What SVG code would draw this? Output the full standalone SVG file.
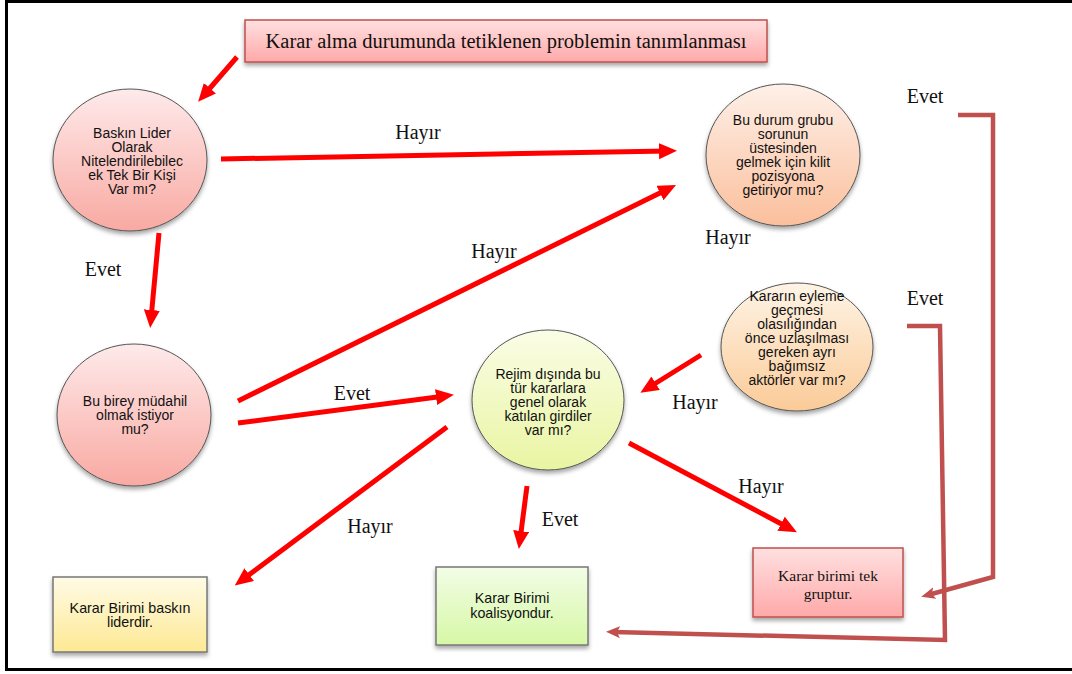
<svg xmlns="http://www.w3.org/2000/svg" width="1072" height="674" viewBox="0 0 1072 674">
<style>
.ct{font-family:"Liberation Sans",Arial,sans-serif;font-size:14px;fill:#111;text-anchor:middle}
.rt{font-family:"Liberation Sans",Arial,sans-serif;font-size:14.3px;fill:#111;text-anchor:middle}
.st{font-family:"Liberation Serif","Times New Roman",serif;fill:#111;text-anchor:middle}
.lbl{font-family:"Liberation Serif","Times New Roman",serif;font-size:20px;fill:#111;text-anchor:middle}
.red{stroke:#ff0000;stroke-width:5;fill:none;marker-end:url(#ah)}
.brown{stroke:#c0504d;stroke-width:4.5;fill:none;stroke-linejoin:miter;marker-end:url(#bh)}
.circ{stroke:#555;stroke-width:1;filter:url(#sh)}
.box{stroke-width:1.5;filter:url(#sh)}
</style>
<defs>
<filter id="sh" x="-20%" y="-20%" width="140%" height="150%"><feDropShadow dx="0" dy="3" stdDeviation="2" flood-color="#000" flood-opacity="0.35"/></filter>
<linearGradient id="gPink" x1="0" y1="0" x2="0" y2="1"><stop offset="0" stop-color="#feeaea"/><stop offset="1" stop-color="#f9a9a2"/></linearGradient>
<linearGradient id="gPeach" x1="0" y1="0" x2="0" y2="1"><stop offset="0" stop-color="#fef0e8"/><stop offset="1" stop-color="#fbbf9c"/></linearGradient>
<linearGradient id="gOrange" x1="0" y1="0" x2="0" y2="1"><stop offset="0" stop-color="#fef4e6"/><stop offset="1" stop-color="#fbcb98"/></linearGradient>
<linearGradient id="gLime" x1="0" y1="0" x2="0" y2="1"><stop offset="0" stop-color="#fafde6"/><stop offset="1" stop-color="#e9f5a2"/></linearGradient>
<linearGradient id="gRedBox" x1="0" y1="0" x2="0" y2="1"><stop offset="0" stop-color="#ffe0e0"/><stop offset="1" stop-color="#ffa9a9"/></linearGradient>
<linearGradient id="gYellow" x1="0" y1="0" x2="0" y2="1"><stop offset="0" stop-color="#fffbe6"/><stop offset="1" stop-color="#fde994"/></linearGradient>
<linearGradient id="gGreen" x1="0" y1="0" x2="0" y2="1"><stop offset="0" stop-color="#f2fde6"/><stop offset="1" stop-color="#d6f8a6"/></linearGradient>
<marker id="ah" markerUnits="userSpaceOnUse" markerWidth="20" markerHeight="18" refX="9" refY="8" orient="auto"><path d="M0,0 L18,8 L0,16 z" fill="#ff0000"/></marker>
<marker id="bh" markerUnits="userSpaceOnUse" markerWidth="16" markerHeight="14" refX="7" refY="6" orient="auto"><path d="M0,0 L14,6 L0,12 L3,6 z" fill="#c0504d"/></marker>
</defs>
<rect width="1072" height="674" fill="#fff"/>
<rect x="6.5" y="1.5" width="1080" height="668" fill="none" stroke="#000" stroke-width="3"/>

<g id="connectors">
<line class="red" x1="237" y1="57" x2="204" y2="95"/>
<line class="red" x1="221" y1="159" x2="668" y2="151"/>
<line class="red" x1="159" y1="233" x2="151" y2="319"/>
<line class="red" x1="238" y1="401" x2="668" y2="189"/>
<line class="red" x1="238" y1="423" x2="445" y2="396"/>
<line class="red" x1="447" y1="427" x2="242" y2="580"/>
<line class="red" x1="527" y1="486" x2="520" y2="540"/>
<line class="red" x1="629" y1="443" x2="789" y2="528"/>
<line class="red" x1="701" y1="355" x2="648" y2="388"/>
<path class="brown" d="M958 115 H993 V577 L928 595"/>
<path class="brown" d="M907 326 H940 L945 640 L613 632"/>
<text class="lbl" x="418" y="139">Hayır</text>
<text class="lbl" x="103" y="276">Evet</text>
<text class="lbl" x="494" y="258">Hayır</text>
<text class="lbl" x="352" y="400">Evet</text>
<text class="lbl" x="370" y="533">Hayır</text>
<text class="lbl" x="560" y="526">Evet</text>
<text class="lbl" x="761" y="493">Hayır</text>
<text class="lbl" x="695" y="409">Hayır</text>
<text class="lbl" x="728" y="244">Hayır</text>
<text class="lbl" x="925" y="103">Evet</text>
<text class="lbl" x="925" y="305">Evet</text>
</g>

<g id="n-title">
<rect class="box" x="245" y="20" width="522" height="42" fill="url(#gRedBox)" stroke="#c0504d"/>
<text class="st" x="506" y="48" font-size="20.5">Karar alma durumunda tetiklenen problemin tanımlanması</text>
</g>

<g id="n-baskin">
<ellipse class="circ" cx="130" cy="160" rx="77" ry="71" fill="url(#gPink)"/>
<text class="ct"><tspan x="132" y="138">Baskın Lider</tspan><tspan x="132" y="152">Olarak</tspan><tspan x="132" y="166">Nitelendirilebilec</tspan><tspan x="132" y="180">ek Tek Bir Kişi</tspan><tspan x="132" y="194">Var mı?</tspan></text>
</g>

<g id="n-grup">
<ellipse class="circ" cx="783" cy="155" rx="77" ry="71" fill="url(#gPeach)"/>
<text class="ct"><tspan x="783" y="125">Bu durum grubu</tspan><tspan x="783" y="139">sorunun</tspan><tspan x="783" y="153">üstesinden</tspan><tspan x="783" y="167">gelmek için kilit</tspan><tspan x="783" y="181">pozisyona</tspan><tspan x="783" y="195">getiriyor mu?</tspan></text>
</g>

<g id="n-birey">
<ellipse class="circ" cx="134" cy="415" rx="77" ry="71" fill="url(#gPink)"/>
<text class="ct"><tspan x="135" y="406">Bu birey müdahil</tspan><tspan x="135" y="420">olmak istiyor</tspan><tspan x="135" y="434">mu?</tspan></text>
</g>

<g id="n-rejim">
<ellipse class="circ" cx="548" cy="400" rx="76" ry="70" fill="url(#gLime)"/>
<text class="ct"><tspan x="548" y="379">Rejim dışında bu</tspan><tspan x="548" y="393">tür kararlara</tspan><tspan x="548" y="407">genel olarak</tspan><tspan x="548" y="421">katılan girdiler</tspan><tspan x="548" y="435">var mı?</tspan></text>
</g>

<g id="n-aktor">
<ellipse class="circ" cx="797" cy="347" rx="76" ry="64" fill="url(#gOrange)"/>
<text class="ct"><tspan x="797" y="301">Kararın eyleme</tspan><tspan x="797" y="315">geçmesi</tspan><tspan x="797" y="329">olasılığından</tspan><tspan x="797" y="343">önce uzlaşılması</tspan><tspan x="797" y="357">gereken ayrı</tspan><tspan x="797" y="371">bağımsız</tspan><tspan x="797" y="385">aktörler var mı?</tspan></text>
</g>

<g id="n-lider">
<rect class="box" x="53" y="577" width="154" height="75" fill="url(#gYellow)" stroke="#777"/>
<text class="rt"><tspan x="130" y="613">Karar Birimi baskın</tspan><tspan x="130" y="627">liderdir.</tspan></text>
</g>

<g id="n-koalisyon">
<rect class="box" x="436" y="567" width="152" height="78" fill="url(#gGreen)" stroke="#777"/>
<text class="rt"><tspan x="512" y="603">Karar Birimi</tspan><tspan x="512" y="618">koalisyondur.</tspan></text>
</g>

<g id="n-tekgrup">
<rect class="box" x="753" y="548" width="150" height="69" fill="url(#gRedBox)" stroke="#c0504d"/>
<text class="st" font-size="15.5"><tspan x="828" y="581">Karar birimi tek</tspan><tspan x="828" y="599">gruptur.</tspan></text>
</g>
</svg>
